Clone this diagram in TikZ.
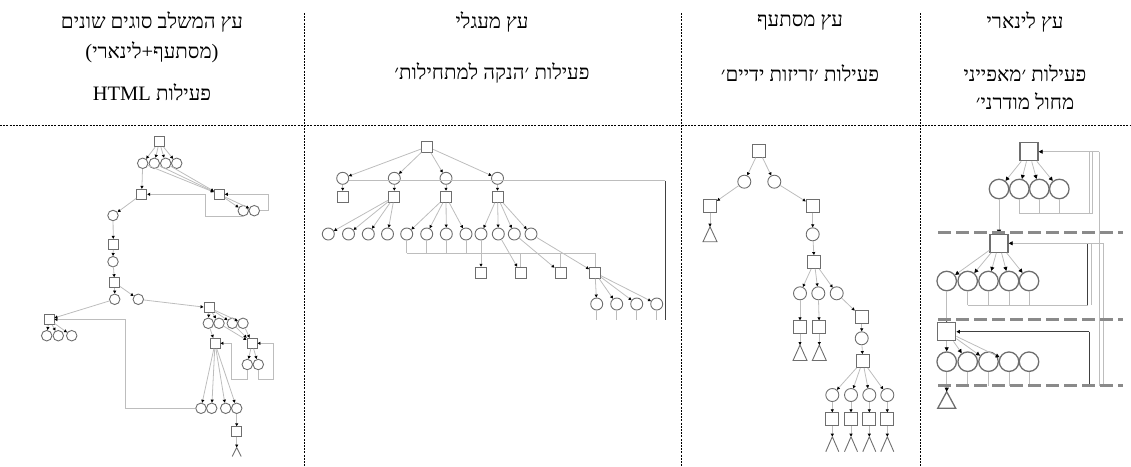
\documentclass[tikz,border=0pt]{standalone}
\usepackage{fontspec}
\setmainfont{Liberation Serif}
\newfontfamily\heb[Script=Hebrew]{Liberation Serif}
\TeXXeTstate=1
\usetikzlibrary{arrows.meta}
\definecolor{shp}{HTML}{6E6E6E}
\definecolor{lgray}{HTML}{BDBDBD}
\definecolor{dgray}{HTML}{8A8A8A}
\begin{document}
\begin{tikzpicture}[x=1pt,y=-1pt,
  sqr/.style={draw=shp, line width=0.9pt, inner sep=0pt, minimum size=#1},
  cir/.style={circle, draw=shp, line width=0.9pt, inner sep=0pt, minimum size=#1},
  sqb/.style={draw=shp, line width=1.3pt, inner sep=0pt, minimum size=#1},
  cib/.style={circle, draw=shp, line width=1.3pt, inner sep=0pt, minimum size=#1},
  conn/.style={draw=lgray, line width=0.8pt},
  dark/.style={draw=black!75, line width=0.9pt},
  arr/.style={conn, -{Triangle[length=3pt,width=3pt,color=black]}},
  darr/.style={dark, -{Triangle[length=3.5pt,width=3.5pt,color=black]}},
  barr/.style={conn, -{Triangle[length=4pt,width=4pt,color=black]}},
  tri/.style={draw=shp, line width=0.9pt},
  divline/.style={draw=black, line width=0.7pt, dash pattern=on 2pt off 1.2pt},
  lvl/.style={draw=dgray, line width=3pt, dash pattern=on 13pt off 5pt},
  txt/.style={font=\heb\fontsize{20.5}{24}\selectfont, inner sep=0pt}
]
\useasboundingbox (0,0) rectangle (1131,466);

% ---------- dividers ----------
\coordinate (d1t) at (304,13); \coordinate (d1b) at (304,466);
\coordinate (d2t) at (681,13); \coordinate (d2b) at (681,466);
\coordinate (d3t) at (920,13); \coordinate (d3b) at (920,466);
\coordinate (hl) at (0,125); \coordinate (hr) at (1131,125);
\draw[divline] (d1t) -- (d1b);
\draw[divline] (d2t) -- (d2b);
\draw[divline] (d3t) -- (d3b);
\draw[divline] (hl) -- (hr);

% ---------- texts ----------
\node[txt] (h1a) at (152,22) {\beginR עץ המשלב סוגים שונים\endR};
\node[txt] (h1b) at (152,52) {\beginR(מסתעף+לינארי)\endR};
\node[txt] (h1c) at (152,92) {\beginR פעילות \beginL HTML\endL\endR};
\node[txt] (h2a) at (492,22) {\beginR עץ מעגלי\endR};
\node[txt] (h2b) at (492,73) {\beginR פעילות ׳הנקה למתחילות׳\endR};
\node[txt] (h3a) at (800,22) {\beginR עץ מסתעף\endR};
\node[txt] (h3b) at (800,73) {\beginR פעילות ׳זריזות ידיים׳\endR};
\node[txt] (h4a) at (1025,22) {\beginR עץ לינארי\endR};
\node[txt] (h4b) at (1025,73) {\beginR פעילות ׳מאפייני\endR};
\node[txt] (h4c) at (1025,101) {\beginR מחול מודרני׳\endR};

% ================= Column 1 =================
\node[sqr=10pt] (s1a) at (159.3,141.7) {};
\node[cir=10.5pt] (c1a) at (142.7,163.3) {};
\node[cir=10.5pt] (c1b) at (154.3,163.3) {};
\node[cir=10.5pt] (c1c) at (165.7,163.3) {};
\node[cir=10.5pt] (c1d) at (176.7,163.3) {};
\node[sqr=10pt] (s1b) at (141.7,194.3) {};
\node[sqr=10pt] (s1c) at (219.3,194.3) {};
\node[cir=10.5pt] (c1e) at (243.3,210.7) {};
\node[cir=10.5pt] (c1f) at (254.3,210.7) {};
\node[cir=10.5pt] (c1g) at (113,215.5) {};
\node[sqr=10pt] (s1d) at (113.3,244.3) {};
\node[cir=10.5pt] (c1h) at (113,261.7) {};
\node[sqr=10pt] (s1e) at (114.7,282.7) {};
\node[cir=10.5pt] (c1i) at (114.7,299.3) {};
\node[cir=10.5pt] (c1j) at (138.3,299.3) {};
\node[sqr=10pt] (s1f) at (49,319.5) {};
\node[cir=10.5pt] (c1k) at (46.7,335.7) {};
\node[cir=10.5pt] (c1l) at (58.3,335.7) {};
\node[cir=10.5pt] (c1m) at (71.7,335.7) {};
\node[sqr=10pt] (s1g) at (209,307.7) {};
\node[cir=10.5pt] (c1n) at (208.3,323.3) {};
\node[cir=10.5pt] (c1o) at (219,323.3) {};
\node[cir=10.5pt] (c1p) at (232.3,323.3) {};
\node[cir=10.5pt] (c1q) at (243,323.3) {};
\node[sqr=10pt] (s1h) at (215,343.3) {};
\node[sqr=10pt] (s1i) at (252,343.3) {};
\node[cir=10.5pt] (c1r) at (247.3,364.5) {};
\node[cir=10.5pt] (c1s) at (258.3,364.5) {};
\node[cir=10.5pt] (c1t) at (201,408.3) {};
\node[cir=10.5pt] (c1u) at (211.7,408.3) {};
\node[cir=10.5pt] (c1v) at (225.7,408.3) {};
\node[cir=10.5pt] (c1w) at (236.7,408.3) {};
\node[sqr=10pt] (s1j) at (236.7,431.7) {};
\coordinate (v1) at (236.7,447.5);
\draw[tri] (v1) -- ++(-4.5,9) (v1) -- ++(4.5,9);

\foreach \t in {c1a,c1b,c1c,c1d} \draw[arr] (s1a) -- (\t);
\draw[arr] (c1a) -- (s1b);
\foreach \f in {c1a,c1b,c1c} \draw[arr] (\f) -- (s1c);
\draw[arr] (s1c) -- (c1e);
\draw[arr] (s1c) -- (c1f);
\draw[arr] (c1f.east) -- (268.3,210.7) -- (268.3,194.3) -- (s1c.east);
\draw[arr] (c1e.south) -| (205,194.3) -- (s1b.east);
\draw[arr] (s1b) -- (c1g);
\draw[arr] (c1g) -- (s1d);
\draw[arr] (s1d) -- (c1h);
\draw[arr] (c1h) -- (s1e);
\draw[arr] (s1e) -- (c1i);
\draw[arr] (s1e) -- (c1j);
\draw[arr] (c1i) -- (s1f);
\foreach \t in {c1k,c1l,c1m} \draw[arr] (s1f) -- (\t);
\draw[arr] (c1j) -- (s1g);
\foreach \t in {c1n,c1o,c1p,c1q} \draw[arr] (s1g) -- (\t);
\draw[arr] (c1n) -- (s1h);
\foreach \f in {c1o,c1p,c1q} \draw[arr] (\f) -- (s1i);
\draw[arr] (s1i) -- (c1r);
\draw[arr] (s1i) -- (c1s);
\draw[arr] (c1r.south) |- (231.7,379.3) |- (s1h.east);
\draw[arr] (c1s.south) |- (273.3,379.3) |- (s1i.east);
\foreach \t in {c1t,c1u,c1v,c1w} \draw[arr] (s1h) -- (\t);
\draw[arr] (c1t.west) -| (125,319.5) -- (s1f.east);
\draw[arr] (c1w) -- (s1j);
\draw[arr] (s1j) -- (v1);

% ================= Column 2 =================
\node[sqr=11pt] (s2a) at (427.3,146.7) {};
\node[cir=12pt] (c2a) at (342.7,178.3) {};
\node[cir=12pt] (c2b) at (394.3,178.3) {};
\node[cir=12pt] (c2c) at (446,178.3) {};
\node[cir=12pt] (c2d) at (497.5,178.3) {};
\node[sqr=11pt] (s2b) at (342.7,196.7) {};
\node[sqr=11pt] (s2c) at (394.3,196.7) {};
\node[sqr=11pt] (s2d) at (446,196.7) {};
\node[sqr=11pt] (s2e) at (497.5,196.7) {};
\node[cir=12pt] (c2e) at (328.3,234) {};
\node[cir=12pt] (c2f) at (348.5,234) {};
\node[cir=12pt] (c2g) at (368.3,234) {};
\node[cir=12pt] (c2h) at (387.5,234) {};
\node[cir=12pt] (c2i) at (406.7,234) {};
\node[cir=12pt] (c2j) at (426.7,234) {};
\node[cir=12pt] (c2k) at (446.3,234) {};
\node[cir=12pt] (c2l) at (466,234) {};
\node[cir=12pt] (c2m) at (481,234) {};
\node[cir=12pt] (c2n) at (498.3,234) {};
\node[cir=12pt] (c2o) at (514.3,234) {};
\node[cir=12pt] (c2p) at (531,234) {};
\node[sqr=11pt] (s2f) at (481,272.7) {};
\node[sqr=11pt] (s2g) at (520.5,272.7) {};
\node[sqr=11pt] (s2h) at (560.5,272.7) {};
\node[sqr=11pt] (s2i) at (595,272.7) {};
\node[cir=12pt] (c2q) at (596.7,304) {};
\node[cir=12pt] (c2r) at (616.7,304) {};
\node[cir=12pt] (c2s) at (636.7,304) {};
\node[cir=12pt] (c2t) at (656.7,304) {};

\foreach \t in {c2a,c2b,c2c,c2d} \draw[arr] (s2a) -- (\t);
\draw[arr] (c2a) -- (s2b);
\draw[arr] (c2b) -- (s2c);
\draw[arr] (c2c) -- (s2d);
\draw[arr] (c2d) -- (s2e);
\foreach \t in {c2e,c2f,c2g,c2h} \draw[arr] (s2c) -- (\t);
\foreach \t in {c2i,c2j,c2k,c2l} \draw[arr] (s2d) -- (\t);
\foreach \t in {c2m,c2n,c2o,c2p} \draw[arr] (s2e) -- (\t);
\foreach \f in {c2i,c2j,c2k,c2l} \draw[conn] (\f.south) -- (\f.south |- 0,253.3);
\coordinate (bus2l) at (406.7,253.3);
\coordinate (bus2r) at (595,253.3);
\draw[conn] (bus2l) -- (bus2r);
\foreach \t in {s2g,s2h,s2i} \draw[conn] (\t.north |- 0,253.3) -- (\t.north);
\draw[arr] (c2m) -- (s2f);
\draw[arr] (c2n) -- (s2g);
\draw[arr] (c2o) -- (s2h);
\draw[arr] (c2p) -- (s2i);
\foreach \t in {c2q,c2r,c2s,c2t} \draw[arr] (s2i) -- (\t);
\foreach \f in {c2q,c2r,c2s,c2t} \draw[conn] (\f.south) -- (\f.south |- 0,320);
\coordinate (ring2a) at (665,180.7);
\coordinate (ring2b) at (665,320);
\draw[conn] (c2a.east |- 0,180.7) -- (ring2a);
\draw[dark] (ring2a) -- (ring2b);

% ================= Column 3 =================
\node[sqr=13pt] (s3a) at (759,150.7) {};
\node[cir=13pt] (c3a) at (744.3,181.7) {};
\node[cir=13pt] (c3b) at (774.3,181.7) {};
\node[sqr=13pt] (s3b) at (710,205.7) {};
\node[sqr=13pt] (s3c) at (812.7,205.7) {};
\coordinate (t3a) at (710,226.7);
\draw[tri] (t3a) -- ++(-7,15) -- ++(14,0) -- cycle;
\node[cir=13pt] (c3c) at (812.7,234.3) {};
\node[sqr=13pt] (s3d) at (814.3,262) {};
\node[cir=13pt] (c3d) at (800,293.3) {};
\node[cir=13pt] (c3e) at (818.3,293.3) {};
\node[cir=13pt] (c3f) at (836.7,293.3) {};
\node[sqr=13pt] (s3e) at (800,327.3) {};
\node[sqr=13pt] (s3f) at (819.3,327.3) {};
\coordinate (t3b) at (800,345);
\coordinate (t3c) at (819.3,345);
\draw[tri] (t3b) -- ++(-7,15.5) -- ++(14,0) -- cycle;
\draw[tri] (t3c) -- ++(-7,15.5) -- ++(14,0) -- cycle;
\node[sqr=13pt] (s3g) at (861.7,317.3) {};
\node[cir=13pt] (c3g) at (861.7,338.3) {};
\node[sqr=13pt] (s3h) at (862.7,361) {};
\node[cir=13pt] (c3h) at (832.3,395) {};
\node[cir=13pt] (c3i) at (851,395) {};
\node[cir=13pt] (c3j) at (869.3,395) {};
\node[cir=13pt] (c3k) at (887.3,395) {};
\node[sqr=13pt] (s3i) at (832.3,419.3) {};
\node[sqr=13pt] (s3j) at (851,419.3) {};
\node[sqr=13pt] (s3k) at (869.3,419.3) {};
\node[sqr=13pt] (s3l) at (887.3,419.3) {};
\coordinate (v3a) at (832.3,436.7);
\coordinate (v3b) at (851,436.7);
\coordinate (v3c) at (869.3,436.7);
\coordinate (v3d) at (887.3,436.7);
\foreach \v in {v3a,v3b,v3c,v3d} \draw[tri] (\v) -- ++(-6.5,15) (\v) -- ++(6.5,15);

\draw[arr] (s3a) -- (c3a);
\draw[arr] (s3a) -- (c3b);
\draw[arr] (c3a) -- (s3b);
\draw[arr] (c3b) -- (s3c);
\draw[arr] (s3b) -- (t3a);
\draw[arr] (s3c) -- (c3c);
\draw[arr] (c3c) -- (s3d);
\foreach \t in {c3d,c3e,c3f} \draw[arr] (s3d) -- (\t);
\draw[arr] (c3d) -- (s3e);
\draw[arr] (c3e) -- (s3f);
\draw[arr] (s3e) -- (t3b);
\draw[arr] (s3f) -- (t3c);
\draw[arr] (c3f) -- (s3g);
\draw[arr] (s3g) -- (c3g);
\draw[arr] (c3g) -- (s3h);
\foreach \t in {c3h,c3i,c3j,c3k} \draw[arr] (s3h) -- (\t);
\draw[arr] (c3h) -- (s3i);
\draw[arr] (c3i) -- (s3j);
\draw[arr] (c3j) -- (s3k);
\draw[arr] (c3k) -- (s3l);
\draw[arr] (s3i) -- (v3a);
\draw[arr] (s3j) -- (v3b);
\draw[arr] (s3k) -- (v3c);
\draw[arr] (s3l) -- (v3d);

% ================= Column 4 =================
\node[sqb=18pt] (s4a) at (1029,151.7) {};
\node[cib=19.5pt] (c4a) at (999,189) {};
\node[cib=19.5pt] (c4b) at (1019.3,189) {};
\node[cib=19.5pt] (c4c) at (1039.3,189) {};
\node[cib=19.5pt] (c4d) at (1059.3,189) {};
\node[sqb=18pt] (s4b) at (999,243.3) {};
\node[cib=19.5pt] (c4e) at (946.7,281) {};
\node[cib=19.5pt] (c4f) at (967.7,281) {};
\node[cib=19.5pt] (c4g) at (988.5,281) {};
\node[cib=19.5pt] (c4h) at (1009,281) {};
\node[cib=19.5pt] (c4i) at (1029,281) {};
\node[sqb=18pt] (s4c) at (946.7,331.7) {};
\node[cib=19.5pt] (c4j) at (946.7,361.7) {};
\node[cib=19.5pt] (c4k) at (967.7,361.7) {};
\node[cib=19.5pt] (c4l) at (988.5,361.7) {};
\node[cib=19.5pt] (c4m) at (1009,361.7) {};
\node[cib=19.5pt] (c4n) at (1029,361.7) {};
\coordinate (t4) at (946.7,391.7);
\draw[draw=shp, line width=1.3pt] (t4) -- ++(-9,16.6) -- ++(18,0) -- cycle;

% top loop
\foreach \t in {c4a,c4b,c4c,c4d} \draw[barr] (s4a) -- (\t);
\draw[barr] (c4a) -- (s4b);
\foreach \f in {c4b,c4c,c4d} \draw[conn] (\f.south) -- (\f.south |- 0,213.3);
\coordinate (b4a) at (1019.3,213.3);
\coordinate (b4b) at (1092.5,213.3);
\draw[conn] (b4a) -- (b4b);
\coordinate (r4a) at (1099,151.7);
\coordinate (r4b) at (1099,385.7);
\draw[barr] (r4a) -- (s4a.east);
\draw[conn] (1089,213.3) -- (1089,151.7);
\draw[conn] (b4b) -- (1092.5,151.7);
\draw[conn] (r4a) -- (r4b);
% second loop
\foreach \t in {c4e,c4f,c4g,c4h,c4i} \draw[barr] (s4b) -- (\t);
\draw[barr] (c4e) -- (s4c);
\foreach \f in {c4f,c4g,c4h,c4i} \draw[conn] (\f.south) -- (\f.south |- 0,305);
\coordinate (b4c) at (967.7,305);
\coordinate (b4d) at (1087.5,305);
\draw[conn] (b4c) -- (b4d);
\draw[dark] (b4d) -- (1087.5,243.3);
\draw[conn] (1091,305) -- (1091,243.3);
\coordinate (r4c) at (1103,243.3);
\coordinate (r4d) at (1103,385.7);
\draw[barr] (r4c) -- (s4b.east);
\draw[conn] (r4c) -- (r4d);
% third loop
\foreach \t in {c4j,c4k,c4l,c4m} \draw[barr] (s4c) -- (\t);
\draw[barr] (c4j) -- (t4);
\foreach \f in {c4k,c4l,c4m,c4n} \draw[conn] (\f.south) -- (\f.south |- 0,385.7);
\coordinate (r4e) at (1089,331.7);
\coordinate (r4f) at (1089,385.7);
\draw[darr] (r4e) -- (s4c.east);
\draw[dark] (r4e) -- (r4f);
% level separators
\coordinate (l1a) at (938,232.7); \coordinate (l1b) at (1123,232.7);
\coordinate (l2a) at (938,319); \coordinate (l2b) at (1123,319);
\coordinate (l3a) at (938,385.7); \coordinate (l3b) at (1123,385.7);
\draw[lvl] (l1a) -- (l1b);
\draw[lvl] (l2a) -- (l2b);
\draw[lvl] (l3a) -- (l3b);
\end{tikzpicture}
\end{document}
